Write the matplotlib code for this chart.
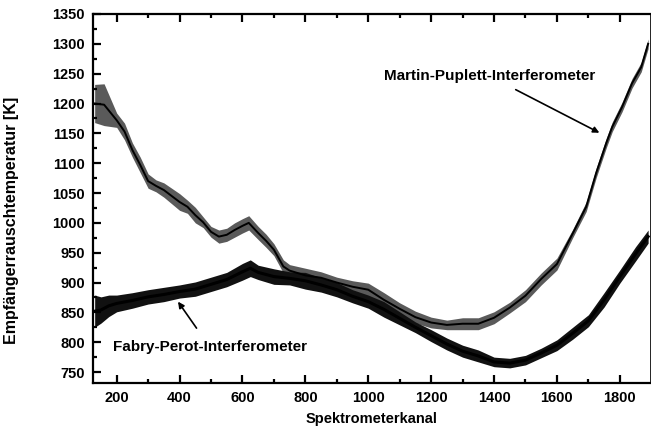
import numpy as np
import matplotlib
matplotlib.use("Agg")
import matplotlib.pyplot as plt
from matplotlib.ticker import MultipleLocator

# Martin-Puplett-Interferometer: Kanal, Mittelwert, halbe Rauschbreite
mp_kanal = [130, 160, 200, 225, 250, 275, 300, 325, 350, 375, 400, 425, 450, 475,
            500, 525, 550, 575, 600, 620, 650, 675, 700, 730, 750, 800, 850, 900,
            950, 1000, 1050, 1100, 1150, 1200, 1250, 1300, 1350, 1400, 1450, 1500,
            1550, 1600, 1650, 1693, 1725, 1757, 1776, 1807, 1839, 1868, 1890]
mp_temp = [1200, 1198, 1172, 1153, 1122, 1097, 1070, 1062, 1055, 1045, 1035, 1027,
           1013, 1001, 985, 977, 980, 988, 995, 1000, 983, 970, 955, 927, 920, 912,
           908, 900, 893, 888, 871, 856, 842, 833, 829, 831, 831, 841, 858, 878,
           906, 931, 982, 1027, 1084, 1134, 1161, 1194, 1234, 1261, 1300]
mp_rausch = [32, 35, 12, 14, 12, 13, 12, 10, 12, 13, 14, 11, 13, 9, 9, 11, 11, 12,
             12, 12, 11, 11, 10, 11, 10, 12, 10, 9, 10, 11, 12, 10, 10, 9, 8, 10,
             10, 10, 9, 10, 10, 10, 7, 8, 8, 8, 8, 8, 8, 8, 8]

# Fabry-Perot-Interferometer
fp_kanal = [130, 150, 175, 200, 250, 300, 350, 400, 450, 500, 550, 600, 625, 650,
            700, 750, 800, 850, 900, 950, 1000, 1050, 1100, 1150, 1200, 1250, 1300,
            1350, 1400, 1450, 1500, 1550, 1600, 1650, 1700, 1750, 1800, 1850, 1890]
fp_temp = [852, 854, 861, 865, 870, 876, 880, 885, 889, 897, 905, 918, 924, 917,
           910, 907, 903, 896, 888, 877, 868, 855, 840, 825, 811, 797, 785, 777,
           767, 765, 770, 782, 795, 815, 836, 871, 910, 948, 977]
fp_rausch = [27, 22, 18, 14, 13, 12, 12, 11, 12, 12, 12, 14, 14, 12, 13, 11, 14,
             12, 12, 11, 11, 13, 11, 9, 10, 10, 10, 10, 8, 8, 8, 8, 9, 10, 10, 12,
             11, 12, 11]

fig = plt.figure(figsize=(6.51, 4.37), dpi=100)
ax = fig.add_axes([0.143, 0.124, 0.855, 0.844])

font = dict(family='Liberation Sans', weight='bold')

mp_t = np.array(mp_temp)
mp_r = np.array(mp_rausch)
ax.fill_between(mp_kanal, mp_t - mp_r, mp_t + mp_r, color='#5a5a5a', lw=0)
ax.plot(mp_kanal, mp_t, color='black', lw=1.4)

fp_t = np.array(fp_temp)
fp_r = np.array(fp_rausch)
ax.fill_between(fp_kanal, fp_t - fp_r, fp_t + fp_r, color='#111111', lw=0)
ax.plot(fp_kanal, fp_t, color='black', lw=2.2)

ax.annotate('Martin-Puplett-Interferometer', xy=(1735, 1151), xytext=(1385, 1246),
            ha='center', va='center', fontsize=11, **font,
            arrowprops=dict(arrowstyle='-|>', color='black', lw=1.2,
                            shrinkA=6, shrinkB=0, mutation_scale=9))
ax.annotate('Fabry-Perot-Interferometer', xy=(395, 868), xytext=(496, 792),
            ha='center', va='center', fontsize=11, **font,
            arrowprops=dict(arrowstyle='-|>', color='black', lw=1.2,
                            shrinkA=8, shrinkB=0, mutation_scale=9))

ax.set_xlim(125, 1895)
ax.set_ylim(732, 1350)
ax.xaxis.set_major_locator(MultipleLocator(200))
ax.xaxis.set_minor_locator(MultipleLocator(100))
ax.yaxis.set_major_locator(MultipleLocator(50))
ax.yaxis.set_minor_locator(MultipleLocator(25))
ax.tick_params(which='both', direction='in', top=True, right=False, width=1.6)
ax.tick_params(which='major', length=6, pad=6, labelsize=10.5)
ax.tick_params(which='minor', length=3)
for lbl in ax.get_xticklabels() + ax.get_yticklabels():
    lbl.set_fontfamily('Liberation Sans')
    lbl.set_fontweight('bold')
for s in ax.spines.values():
    s.set_linewidth(1.6)
ax.spines['right'].set_linewidth(0.6)

ax.set_xlabel('Spektrometerkanal', fontsize=10.5, labelpad=5, **font)
ax.set_ylabel('Empfängerrauschtemperatur [K]', fontsize=11.5, **font)
ax.yaxis.set_label_coords(-0.134, 0.44)

fig.savefig('out.png', dpi=100)
